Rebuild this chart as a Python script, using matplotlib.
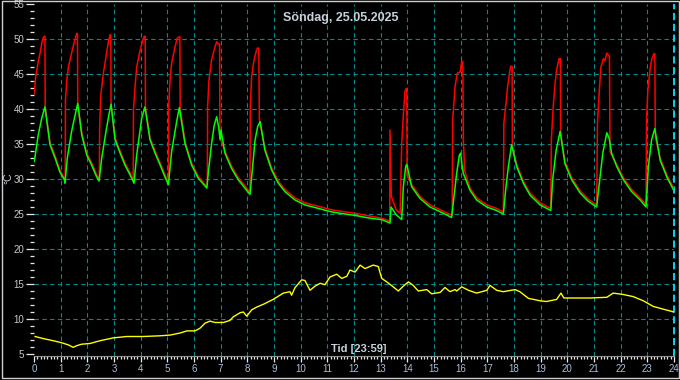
import matplotlib
matplotlib.use("Agg")
import matplotlib.pyplot as plt
from matplotlib.patches import Rectangle

# ---- data (hours, deg C) ----
red_t = [0.01, 0.06, 0.16, 0.23, 0.29, 0.35, 0.39, 0.41, 0.42, 0.60, 0.79, 0.97, 1.14,
         1.17, 1.18, 1.23, 1.29, 1.41, 1.50, 1.60, 1.63, 1.64, 1.79, 1.98, 2.16, 2.35, 2.44,
         2.45, 2.46, 2.50, 2.60, 2.70, 2.79, 2.85, 2.88, 2.89, 3.04, 3.23, 3.41, 3.60, 3.72,
         3.73, 3.79, 3.85, 3.98, 4.08, 4.14, 4.17, 4.18, 4.35, 4.54, 4.73, 4.91, 5.04,
         5.05, 5.10, 5.16, 5.29, 5.37, 5.44, 5.47, 5.48, 5.66, 5.91, 6.16, 6.46,
         6.50, 6.51, 6.56, 6.66, 6.79, 6.85, 6.92, 6.96, 6.97, 7.16, 7.41, 7.66, 7.91, 8.10,
         8.11, 8.16, 8.25, 8.33, 8.38, 8.43, 8.45, 8.66, 8.91, 9.16, 9.41, 9.79, 10.16, 10.66,
         11.16, 11.66, 12.04, 12.60, 13.04, 13.34, 13.35, 13.40, 13.58, 13.73,
         13.79, 13.85, 13.91, 13.95, 13.98, 13.99, 14.16, 14.48, 14.85, 15.35, 15.68,
         15.70, 15.79, 15.87, 15.98, 16.04, 16.08, 16.10, 16.15, 16.35, 16.60, 16.98, 17.35, 17.60,
         17.62, 17.70, 17.76, 17.83, 17.87, 17.93, 17.94, 18.10, 18.35, 18.60, 18.98, 19.38,
         19.40, 19.47, 19.54, 19.60, 19.69, 19.74, 19.75, 19.91, 20.16, 20.48, 20.79, 21.10,
         21.13, 21.20, 21.26, 21.35, 21.41, 21.48, 21.58, 21.60, 21.85, 22.10, 22.41, 22.73, 22.95,
         22.97, 23.02, 23.10, 23.17, 23.25, 23.28, 23.30, 23.48, 23.73, 24.00]
red_v = [42.2, 44.5, 46.8, 48.0, 49.4, 50.2, 50.4, 50.4, 40.3, 35.2, 33.3, 31.3, 30.0,
         29.8, 41.3, 44.1, 46.0, 48.0, 49.4, 50.8, 50.8, 40.8, 36.6, 33.7, 32.3, 30.6, 30.0,
         30.0, 37.0, 41.8, 45.1, 47.5, 49.6, 50.6, 50.6, 40.7, 35.9, 34.0, 32.3, 30.9, 29.7,
         39.9, 43.2, 46.0, 48.4, 49.9, 50.4, 50.4, 40.3, 35.9, 34.0, 32.3, 30.6, 29.5,
         40.3, 44.1, 46.5, 48.9, 50.1, 50.3, 50.3, 40.2, 35.4, 32.3, 30.4, 29.0,
         28.9, 40.3, 44.1, 47.0, 48.9, 49.6, 49.3, 49.3, 36.0, 34.0, 31.8, 30.2, 29.0, 28.1,
         40.3, 44.6, 47.0, 48.2, 48.7, 48.7, 38.5, 34.4, 31.6, 29.7, 28.5, 27.3, 26.6, 26.1,
         25.6, 25.3, 25.1, 24.7, 24.4, 24.0, 37.0, 27.5, 25.6, 25.1,
         35.1, 39.1, 42.5, 42.9, 42.9, 30.5, 29.2, 27.5, 26.3, 25.4, 24.8,
         38.4, 43.2, 45.1, 45.3, 46.8, 46.8, 35.6, 31.2, 28.7, 27.3, 26.3, 25.8, 25.3,
         38.0, 40.8, 43.2, 45.1, 46.1, 46.1, 34.6, 32.1, 29.7, 28.0, 26.6, 25.8,
         35.6, 40.3, 43.7, 45.6, 47.2, 47.2, 36.5, 32.5, 30.2, 28.3, 27.1, 26.3,
         38.0, 42.7, 46.0, 47.2, 46.9, 48.0, 47.5, 33.9, 32.1, 30.2, 28.5, 27.3, 26.3,
         38.4, 42.7, 45.6, 47.2, 47.9, 47.9, 36.0, 33.0, 30.6, 28.6]

green_t = [0.01, 0.16, 0.29, 0.41, 0.60, 0.79, 0.97, 1.14, 1.16,
           1.25, 1.41, 1.54, 1.64, 1.79, 1.98, 2.16, 2.35, 2.44,
           2.54, 2.70, 2.82, 2.89, 3.04, 3.23, 3.41, 3.60, 3.75,
           3.85, 4.04, 4.16, 4.35, 4.54, 4.73, 4.91, 5.04,
           5.16, 5.35, 5.45, 5.66, 5.91, 6.16, 6.48,
           6.54, 6.66, 6.76, 6.85, 6.92, 6.98, 7.01, 7.16, 7.41, 7.66, 7.91, 8.10,
           8.20, 8.29, 8.39, 8.48, 8.66, 8.91, 9.16, 9.41, 9.79, 10.16, 10.66, 11.16, 11.66,
           12.04, 12.60, 13.04, 13.35,
           13.39, 13.58, 13.79, 13.85, 13.94, 13.98, 14.16, 14.48, 14.85, 15.35, 15.66,
           15.75, 15.85, 15.95, 16.00, 16.05, 16.10, 16.35, 16.60, 16.98, 17.35, 17.60,
           17.70, 17.79, 17.91, 18.10, 18.35, 18.60, 18.98, 19.38,
           19.45, 19.58, 19.73, 19.91, 20.16, 20.48, 20.79, 21.10,
           21.20, 21.33, 21.48, 21.57, 21.66, 21.85, 22.10, 22.41, 22.73, 22.95,
           23.04, 23.16, 23.28, 23.48, 23.73, 24.00]
green_v = [32.5, 36.3, 38.7, 40.3, 34.9, 33.0, 31.0, 29.9, 29.4,
           33.0, 36.8, 39.1, 40.8, 36.3, 33.4, 32.0, 30.3, 29.7,
           33.0, 36.8, 39.4, 40.7, 35.6, 33.7, 32.0, 30.6, 29.4,
           33.4, 38.7, 40.3, 35.6, 33.7, 32.0, 30.3, 29.2,
           33.9, 38.2, 40.2, 35.1, 32.0, 30.1, 28.7,
           31.0, 35.1, 37.7, 38.9, 37.5, 35.6, 37.0, 33.7, 31.5, 29.9, 28.7, 27.8,
           31.8, 35.6, 37.5, 38.2, 34.1, 31.3, 29.4, 28.2, 27.0, 26.3, 25.8, 25.3, 25.0,
           24.8, 24.4, 24.2, 23.7,
           26.0, 24.9, 24.2, 28.9, 31.8, 32.1, 28.9, 27.2, 26.0, 25.1, 24.5,
           27.5, 30.8, 33.4, 33.7, 32.0, 30.8, 28.4, 27.0, 26.0, 25.5, 25.0,
           28.9, 31.8, 34.9, 31.8, 29.4, 27.7, 26.3, 25.5,
           29.9, 34.1, 36.8, 32.2, 29.9, 28.0, 26.8, 26.0,
           29.4, 33.7, 36.6, 35.8, 33.7, 31.8, 29.9, 28.2, 27.0, 26.0,
           31.8, 35.6, 37.2, 32.7, 30.3, 28.3]

out_t = [0.04, 0.35, 0.72, 1.04, 1.29, 1.47, 1.61, 1.79, 2.10, 2.48, 2.97, 3.48, 4.10,
         4.73, 5.10, 5.48, 5.73, 6.04, 6.23, 6.41, 6.60, 6.79, 7.10, 7.35, 7.47, 7.73,
         7.85, 7.98, 8.16, 8.35, 8.60, 8.97, 9.35, 9.60, 9.66, 9.79, 10.04, 10.16, 10.35,
         10.54, 10.73, 10.91, 11.10, 11.35, 11.54, 11.73, 11.85, 12.04, 12.23, 12.41,
         12.72, 12.91, 13.04, 13.23, 13.47, 13.66, 13.85, 14.04, 14.22, 14.41, 14.73,
         14.91, 15.23, 15.41, 15.60, 15.79, 15.85, 16.04, 16.29, 16.60, 16.98, 17.10,
         17.35, 17.60, 18.04, 18.22, 18.54, 18.98, 19.22, 19.60, 19.76, 19.87, 20.22,
         20.85, 21.48, 21.72, 22.10, 22.47, 22.85, 23.22, 23.60, 24.00]
out_v = [7.5, 7.2, 6.9, 6.6, 6.3, 5.95, 6.2, 6.4, 6.5, 6.9, 7.3, 7.5, 7.5,
         7.6, 7.7, 8.0, 8.3, 8.3, 8.7, 9.4, 9.7, 9.5, 9.5, 9.8, 10.3, 10.9,
         11.0, 10.4, 11.3, 11.7, 12.1, 12.8, 13.7, 13.9, 13.4, 14.5, 15.6, 15.5, 14.1,
         14.7, 15.1, 14.9, 16.0, 16.4, 15.8, 16.1, 17.0, 16.7, 17.7, 17.2,
         17.7, 17.5, 15.8, 15.3, 14.6, 14.0, 14.7, 15.3, 14.8, 14.0, 14.2,
         13.6, 13.8, 14.5, 13.9, 14.2, 14.0, 14.6, 14.1, 13.7, 14.1, 14.8,
         14.1, 13.9, 14.2, 13.9, 12.95, 12.6, 12.5, 12.8, 13.7, 13.0, 13.0,
         13.0, 13.1, 13.7, 13.5, 13.2, 12.6, 11.8, 11.4, 11.0]

TITLE = "Söndag, 25.05.2025"
XLABEL = "Tid [23:59]"

BG = "black"
GRID = "#008c8c"
TXT = "#c8d0dc"

plt.rcParams["font.family"] = ["Liberation Sans", "DejaVu Sans"]

fig = plt.figure(figsize=(6.8, 3.8), dpi=100, facecolor=BG)
ax = fig.add_axes([34 / 680, 24 / 380, 640 / 680, 352 / 380], facecolor=BG)

# grid
for y in range(10, 55, 5):
    ax.axhline(y, color=GRID, lw=0.8, ls=(0, (4, 3)), zorder=1)
for h in range(1, 24):
    ax.axvline(h, color=GRID, lw=0.8, ls=(0, (4, 3)), zorder=1)
ax.axvline(24, color="#00e8ff", lw=1.3, ls=(0, (4, 2)), zorder=1, clip_on=False)

ax.plot(red_t, red_v, color="#ff0000", lw=1.1, zorder=3)
ax.plot(green_t, green_v, color="#00ff00", lw=1.1, zorder=4)
ax.plot(out_t, out_v, color="#ffff00", lw=1.0, zorder=3)

ax.set_xlim(0, 24)
ax.set_ylim(5 - 2 / 7, 55)

ax.set_yticks(range(5, 56, 5))
ax.set_yticks(range(5, 56), minor=True)
ax.set_xticks(range(0, 25))
ax.set_xticks([i / 8 for i in range(0, 193)], minor=True)

ax.tick_params(axis="y", which="major", direction="out", length=5.5, width=0.9,
               color="#e8e8e8", labelcolor="#c8c8d0", labelsize=7, pad=1.5)
ax.tick_params(axis="y", which="minor", direction="out", length=3, width=0.9,
               color="#e8e8e8")
ax.tick_params(axis="x", which="major", direction="out", length=4, width=0.9,
               color="#e8e8e8", labelcolor="#a8c0dc", labelsize=7, pad=2)
ax.tick_params(axis="x", which="minor", direction="out", length=2.2, width=0.9,
               color="#e8e8e8")

for s in ["top", "right", "left"]:
    ax.spines[s].set_visible(False)
ax.spines["bottom"].set_color("#909090")
ax.spines["bottom"].set_linewidth(0.8)

fig.text(341 / 680, 1 - 18 / 380, TITLE, ha="center", va="center",
         fontsize=9, fontweight="bold", color=TXT)
fig.text(359 / 680, 1 - 349 / 380, XLABEL, ha="center", va="center",
         fontsize=8, fontweight="bold", color=TXT)
fig.text(8 / 680, 1 - 178 / 380, "°C", ha="center", va="center",
         rotation=90, fontsize=7.5, color=TXT)

# outer frame
fig.patches.append(Rectangle((1.5 / 680, 2 / 380), 677 / 680, 377 / 380,
                             transform=fig.transFigure, fill=False,
                             edgecolor="#d0d0d0", lw=1.0))

fig.savefig("out.png", dpi=100, facecolor=BG)
